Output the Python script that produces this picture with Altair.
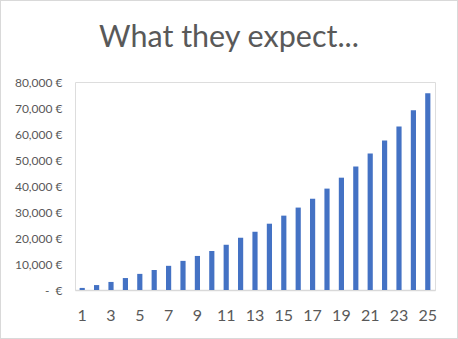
import altair as alt
import pandas as pd

periods = list(range(1, 26))
values = [800, 1900, 3100, 4600, 6200, 7700, 9300, 11200, 13100, 15000,
          17400, 20100, 22400, 25500, 28600, 31700, 35100, 39000, 43200, 47500,
          52500, 57500, 62900, 69100, 75700]
x_ticks = [1, 3, 5, 7, 9, 11, 13, 15, 17, 19, 21, 23, 25]
y_ticks = [0, 10000, 20000, 30000, 40000, 50000, 60000, 70000, 80000]
title = "What they expect..."

df = pd.DataFrame({"period": periods, "value": values})
title_df = pd.DataFrame({"t": [title]})

bars = alt.Chart(df).mark_bar(color="#4472C4").encode(
    x=alt.X("period:O", sort=periods,
            scale=alt.Scale(paddingInner=0.64, paddingOuter=0.32),
            axis=alt.Axis(title=None, values=x_ticks, labelAngle=0, ticks=False,
                          domainColor="#d9d9d9", domainWidth=1.5,
                          labelFontSize=16, labelColor="#595959",
                          labelPadding=17, labelFont="Lato")),
    y=alt.Y("value:Q",
            scale=alt.Scale(domain=[0, 80000], nice=False),
            axis=alt.Axis(title=None, values=y_ticks, grid=False, domain=False,
                          ticks=False, labelPadding=13, labelFontSize=12,
                          labelColor="#595959", labelFont="Lato",
                          labelExpr="datum.value == 0 ? '-\u00a0\u00a0€' : format(datum.value, ',') + '\u00a0€'")),
)

border = alt.Chart(df).mark_rect(fill=None, stroke="#d9d9d9", strokeWidth=1, clip=False).encode(
    x=alt.value(-74.5), x2=alt.value(382.5), y=alt.value(-81.5), y2=alt.value(256.5)
)

title_mark = alt.Chart(title_df).mark_text(
    font="Lato", fontSize=30.5, color="#595959", align="center", baseline="alphabetic"
).encode(text="t:N", x=alt.value(154), y=alt.value(-35))

chart = alt.layer(border, bars, title_mark).properties(
    width=360, height=208,
    padding={"left": 75, "top": 82, "right": 23, "bottom": 49},
    autosize=alt.AutoSizeParams(type="none"),
).configure_view(stroke=None).configure(background="white")

chart.save("out.html", embed_options={"renderer": "svg", "actions": False})
